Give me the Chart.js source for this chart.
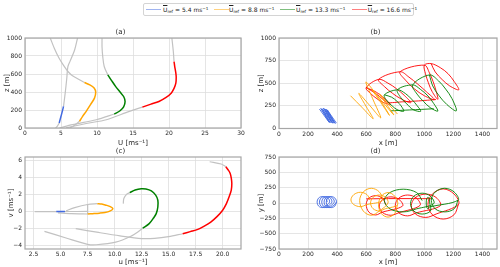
<!DOCTYPE html>
<html><head><meta charset="utf-8">
<script src="https://cdn.jsdelivr.net/npm/chart.js@4.4.0/dist/chart.umd.min.js"></script>
<style>
body{margin:0;width:500px;height:267px;background:#fff;position:relative;overflow:hidden;font-family:"DejaVu Sans",sans-serif;}
canvas{position:absolute;}
#legend{position:absolute;left:143px;top:3px;width:269px;height:11px;border:1px solid #d4d4d4;border-radius:2px;background:#fff;}
.ln{position:absolute;top:5px;width:15px;height:1.4px;}
.tx{position:absolute;top:1px;font-size:6px;line-height:8px;color:#222;white-space:nowrap;}
.tx sub{font-size:4.2px;vertical-align:-1px;}
.tx sup{font-size:4.2px;vertical-align:2px;}
.ov{text-decoration:overline;}
</style></head><body>
<div id="legend">
 <span class="ln" style="left:2px;background:rgba(65,105,225,0.5)"></span><span class="tx" style="left:19px"><span class="ov">U</span><sub>ref</sub> = 5.4 ms<sup>−1</sup></span>
 <span class="ln" style="left:69.7px;background:rgba(255,165,0,0.5)"></span><span class="tx" style="left:85px"><span class="ov">U</span><sub>ref</sub> = 8.8 ms<sup>−1</sup></span>
 <span class="ln" style="left:136px;background:rgba(0,128,0,0.5)"></span><span class="tx" style="left:152px"><span class="ov">U</span><sub>ref</sub> = 13.3 ms<sup>−1</sup></span>
 <span class="ln" style="left:207.7px;background:rgba(255,0,0,0.5)"></span><span class="tx" style="left:223.7px"><span class="ov">U</span><sub>ref</sub> = 16.6 ms<sup>−1</sup></span>
</div>
<canvas id="ca" width="250" height="120" style="left:0;top:28px"></canvas>
<canvas id="cb" width="246" height="120" style="left:254px;top:28px"></canvas>
<canvas id="cc" width="250" height="120" style="left:0;top:147px"></canvas>
<canvas id="cd" width="246" height="120" style="left:254px;top:147px"></canvas>
<script>
// ---------- tick values ----------
const aXTicks=[0,5,10,15,20,25,30];
const aYTicks=[0,200,400,600,800,1000];
const bXTicks=[0,200,400,600,800,1000,1200,1400];
const bYTicks=[0,250,500,750,1000];
const cXTicks=[2.5,5,7.5,10,12.5,15,17.5,20];
const cYTicks=[-4,-2,0,2,4,6];
const dXTicks=[0,200,400,600,800,1000,1200,1400];
const dYTicks=[-750,-500,-250,0,250,500,750];

// ---------- (a) profiles U(z) ----------
const aBlueLow=[[4.25,0],[4.5,20],[4.75,55]];
const aBlueRot=[[4.75,55],[5.0,130],[5.2,190],[5.35,240]];
const aBlueUp=[[5.35,240],[5.6,400],[5.8,550],[5.95,680],[6.25,740],[6.9,870],[7.3,1000]];
const aOrgLow=[[6.2,0],[6.8,25],[7.57,74]];
const aOrgRot=[[7.57,74],[8.0,130],[8.5,185],[9.1,260],[9.65,332],[9.82,400],[9.6,445],[9.0,480],[8.26,505]];
const aOrgUp=[[8.26,505],[7.5,540],[6.6,580],[6.0,625],[5.4,690],[4.7,780],[4.1,880],[3.5,1000]];
const aGrnLow=[[4.8,0],[6.6,37],[9.9,92],[12.4,155]];
const aGrnRot=[[12.4,155],[13.2,192],[13.7,235],[13.9,295],[13.7,350],[13.2,400],[12.6,460],[12.0,530],[11.5,590]];
const aGrnUp=[[11.5,590],[11.0,683],[10.8,793],[10.7,900],[10.7,1000]];
const aRedLow=[[5.7,0],[6.2,11],[8.5,50],[11.3,92],[14.5,185],[16.3,232]];
const aRedRot=[[16.3,232],[17.5,265],[18.6,295],[19.6,340],[20.3,387],[20.7,440],[20.95,498],[21.0,560],[20.95,609],[20.8,680],[20.7,738]];
const aRedUp=[[20.7,738],[20.6,850],[20.4,1000]];

// ---------- (b) x-z trajectories ----------
const bBlue=[[278,215],[345,68],[288,222],[353,62],[298,218],[362,66],[306,226],[370,58],[316,216],[378,62],[325,212],[387,55],[332,206],[395,60]];
const bOrange=[[492,362],[570,235],[648,108],[598,248],[549,388],[625,253],[700,118],[648,316],[598,515],[690,330],[760,145],[700,288],[640,430],[715,290],[790,150],[740,268],[690,385],[752,272],[815,160]];
const bGreenLine=[[1065,218],[900,205],[767,195]];
const bGreen=[[725,372],[775,346],[812,300],[840,250],[858,190],[812,209],[778,251],[745,302],[725,372],
 [815,428],[870,386],[912,325],[950,253],[975,190],[922,209],[880,271],[838,342],[815,428],
 [920,482],[975,430],[1025,360],[1065,275],[1093,192],[1040,231],[995,298],[950,380],[920,482],
 [1035,592],[1098,526],[1147,435],[1190,331],[1220,195],[1155,265],[1100,365],[1058,470],[1035,592]];
const bRedLine=[[600,455],[680,370],[745,288],[850,295],[960,305],[1080,320]];
const bRed=[[600,450],[650,419],[692,376],[730,325],[765,268],[710,293],[668,336],[630,387],[600,450],
 [686,543],[749,502],[808,440],[862,366],[907,285],[840,327],[780,390],[725,464],[686,543],
 [833,627],[894,568],[955,490],[1015,405],[1070,319],[1000,362],[930,440],[870,535],[833,627],
 [1000,700],[1035,615],[1060,520],[1080,420],[1093,322],[1053,410],[1028,505],[1008,605],[1000,700],
 [1047,717],[1110,672],[1163,606],[1205,520],[1237,428],[1175,470],[1123,540],[1075,625],[1047,717]];

// ---------- (c) hodographs u-v ----------
const cBlueGrey=[[2.6,-0.05],[4.6,-0.04],[5.4,-0.03],[6.5,-0.03],[7.5,-0.02]];
const cBlueRot=[[4.6,-0.04],[5.0,-0.03],[5.4,-0.03]];
const cOrgLow=[[4.75,-0.2],[6.0,-0.28],[7.5,-0.32]];
const cOrgRot=[[7.5,-0.32],[8.0,-0.28],[8.6,-0.22],[9.1,-0.14],[9.55,0.02],[9.84,0.3],[9.6,0.55],[9.2,0.72],[8.8,0.85],[8.4,0.9]];
const cOrgUp=[[8.4,0.9],[7.5,0.8],[6.3,0.43],[5.5,0.05]];
const cOrgVert=[[7.5,0.8],[7.5,-0.32]];
const cGrnLow=[[3.5,-2.37],[5.5,-3.15],[7.5,-3.9],[8.3,-3.95],[10.1,-3.64],[11.5,-2.95],[12.3,-2.3],[12.6,-2.0]];
const cGrnRot=[[12.6,-2.0],[13.2,-1.46],[13.6,-0.8],[13.85,-0.28],[14.0,0.5],[14.0,1.3],[13.8,1.9],[13.4,2.4],[12.9,2.62],[12.46,2.65],[11.9,2.5],[11.4,2.2]];
const cGrnUp=[[11.4,2.2],[11.1,2.0],[10.85,1.5],[10.8,0.9]];
const cRedLow=[[6.4,-2.05],[8.5,-2.5],[10.5,-2.9],[12.5,-3.22],[13.7,-3.2],[15.0,-3.0],[16.3,-2.65]];
const cRedRot=[[16.3,-2.65],[17.0,-2.4],[17.7,-2.14],[18.3,-1.75],[18.9,-1.27],[19.5,-0.6],[20.0,0.12],[20.35,0.9],[20.6,1.7],[20.8,2.5],[20.85,3.27],[20.8,3.9],[20.7,4.46],[20.5,4.9],[20.3,5.25]];
const cRedUp=[[20.3,5.25],[19.86,5.57],[18.8,5.84]];

// ---------- (d) x-y trajectories ----------
const dBlue=[[332,15],[322,79],[297,105],[272,79],[262,15],[272,-49],[297,-75],[322,-49],
 [348,15],[338,79],[313,105],[288,79],[278,15],[288,-49],[313,-75],[338,-49],
 [364,15],[354,79],[329,105],[304,79],[294,15],[304,-49],[329,-75],[354,-49],
 [380,15],[370,79],[345,105],[320,79],[310,15],[320,-49],[345,-75],[370,-49],
 [395,15],[385,79],[360,105],[335,79],[325,15],[335,-49],[360,-75],[385,-49],[395,15]];
const dOrange=[[625,50],[606,135],[560,175],[514,135],[495,50],[514,-25],[560,-60],[606,-25],
 [710,40],[690,181],[635,240],[580,181],[555,40],[580,-131],[635,-200],[690,-131],
 [750,0],[733,92],[690,130],[647,92],[630,0],[647,-92],[690,-130],[733,-92],
 [815,-30],[796,112],[750,170],[704,112],[685,-30],[704,-172],[750,-230],[796,-172],[815,-30]];
const dGreen=[[985,40],[947,170],[855,225],[763,170],[725,40],[763,-95],[855,-145],[947,-95],
 [1065,-10],[1042,111],[985,160],[928,111],[905,-10],[928,-131],[985,-180],[1042,-131],
 [1037,0],[1034,67],[1025,95],[1016,67],[1013,0],[1016,-67],[1025,-95],[1034,-67],
 [1232,45],[1205,180],[1140,240],[1075,180],[1048,45],[1075,-95],[1140,-145],[1205,-95],[1232,45]];
const dRedLine=[[600,68],[800,72],[1050,70]];
const dRed=[[735,-25],[711,80],[665,120],[619,80],[600,-25],[619,-150],[665,-195],[711,-150],
 [850,-50],[827,57],[770,100],[713,57],[690,-50],[713,-157],[770,-200],[827,-157],
 [970,-40],[945,81],[885,130],[825,81],[800,-40],[825,-161],[885,-210],[945,-161],
 [1110,-45],[1081,90],[1010,145],[939,90],[910,-45],[939,-180],[1010,-235],[1081,-180],
 [1235,-20],[1205,145],[1130,230],[1055,145],[1025,-20],[1055,-190],[1130,-262],[1205,-190],[1235,-20]];

// ---------- styling ----------
const F='"DejaVu Sans", sans-serif';
const TXT='#262626', GRID='#dedede', GREY='#c2c2c2';
const BLUE='#4169e1', ORANGE='#ffa500', GREEN='#008000', RED='#ff0000';
const minus=v=>String(v).replace('-','\u2212');

function ds(arr,color,w,order,tension){
  return {data:arr.map(p=>({x:p[0],y:p[1]})),showLine:true,borderColor:color,borderWidth:w,
    pointRadius:0,pointHoverRadius:0,fill:false,tension:tension,order:order};
}
const boxPlugin={id:'box',afterDatasetsDraw(chart){
  const a=chart.chartArea,c=chart.ctx;c.save();c.strokeStyle='#a6a6a6';c.lineWidth=1.2;
  c.strokeRect(a.left,a.top,a.right-a.left,a.bottom-a.top);c.restore();}};

function panel(id,datasets,o){
  return new Chart(document.getElementById(id),{
    type:'scatter',data:{datasets},
    options:{responsive:false,animation:false,devicePixelRatio:1,events:[],
      layout:{autoPadding:false,padding:{left:0,right:o.padR,top:0,bottom:0}},
      plugins:{legend:{display:false},tooltip:{enabled:false},
        title:{display:true,text:o.title,color:TXT,font:{family:F,size:7,weight:'normal'},padding:{top:0,bottom:1.6}}},
      scales:{
        x:{type:'linear',min:o.xmin,max:o.xmax,
          afterBuildTicks:s=>{s.ticks=o.xticks.map(v=>({value:v}));},
          afterFit:s=>{s.height=o.xh;s.paddingLeft=0;s.paddingRight=0;},
          grid:{color:GRID,lineWidth:0.8,drawTicks:false},border:{display:false},
          ticks:{padding:2,color:TXT,font:{family:F,size:6},maxRotation:0,autoSkip:false,callback:o.xfmt},
          title:{display:true,text:o.xtitle,color:TXT,font:{family:F,size:7},padding:{top:0,bottom:1}}},
        y:{type:'linear',min:o.ymin,max:o.ymax,
          afterBuildTicks:s=>{s.ticks=o.yticks.map(v=>({value:v}));},
          afterFit:s=>{s.width=25;s.paddingTop=0;s.paddingBottom=0;},
          grid:{color:GRID,lineWidth:0.8,drawTicks:false},border:{display:false},
          ticks:{padding:3,color:TXT,font:{family:F,size:6},autoSkip:false,callback:o.yfmt},
          title:{display:true,text:o.ytitle,color:TXT,font:{family:F,size:7},padding:{top:o.ytp,bottom:0}}}
      }},
    plugins:[boxPlugin]});
}

const T=0.3;
panel('ca',[
  ds(aBlueRot,BLUE,1.5,0,T),ds(aOrgRot,ORANGE,1.5,0,T),ds(aGrnRot,GREEN,1.5,0,T),ds(aRedRot,RED,1.5,0,T),
  ds(aBlueLow,GREY,1.2,1,T),ds(aBlueUp,GREY,1.2,1,T),ds(aOrgLow,GREY,1.2,1,T),ds(aOrgUp,GREY,1.2,1,T),
  ds(aGrnLow,GREY,1.2,1,T),ds(aGrnUp,GREY,1.2,1,T),ds(aRedLow,GREY,1.2,1,T),ds(aRedUp,GREY,1.2,1,T)
],{title:'(a)',xmin:0,xmax:30,ymin:0,ymax:1000,xticks:aXTicks,yticks:aYTicks,xh:20,padR:9,ytp:2.8,
  xtitle:'U [ms\u207B\u00B9]',ytitle:'z [m]',xfmt:v=>String(v),yfmt:v=>String(v)});

panel('cb',[
  ds(bBlue,BLUE,0.9,0,0),ds(bOrange,ORANGE,0.9,0,0.3),ds(bGreen,GREEN,0.9,0,0.35),ds(bGreenLine,GREEN,0.9,0,0.3),
  ds(bRed,RED,0.9,0,0.35),ds(bRedLine,RED,0.9,0,0.2)
],{title:'(b)',xmin:0,xmax:1500,ymin:0,ymax:1000,xticks:bXTicks,yticks:bYTicks,xh:19.5,padR:3,ytp:3.3,
  xtitle:'x [m]',ytitle:'z [m]',xfmt:v=>String(v),yfmt:v=>String(v)});

panel('cc',[
  ds(cBlueRot,BLUE,1.5,0,T),ds(cOrgRot,ORANGE,1.5,0,T),ds(cGrnRot,GREEN,1.5,0,T),ds(cRedRot,RED,1.5,0,T),
  ds(cBlueGrey,GREY,1.2,1,0),ds(cOrgLow,GREY,1.2,1,T),ds(cOrgUp,GREY,1.2,1,T),ds(cOrgVert,GREY,1.2,1,0),
  ds(cGrnLow,GREY,1.2,1,T),ds(cGrnUp,GREY,1.2,1,T),ds(cRedLow,GREY,1.2,1,T),ds(cRedUp,GREY,1.2,1,T)
],{title:'(c)',xmin:1.7,xmax:21.7,ymin:-4.45,ymax:6.4,xticks:cXTicks,yticks:cYTicks,xh:18,padR:9,ytp:7,
  xtitle:'u [ms\u207B\u00B9]',ytitle:'v [ms\u207B\u00B9]',xfmt:v=>v.toFixed(1),yfmt:minus});

panel('cd',[
  ds(dBlue,BLUE,0.9,0,0.35),ds(dOrange,ORANGE,0.9,0,0.35),ds(dGreen,GREEN,0.9,0,0.35),
  ds(dRed,RED,0.9,0,0.35),ds(dRedLine,RED,0.9,0,0.3)
],{title:'(d)',xmin:0,xmax:1500,ymin:-750,ymax:750,xticks:dXTicks,yticks:dYTicks,xh:18,padR:3,ytp:3.3,
  xtitle:'x [m]',ytitle:'y [m]',xfmt:v=>String(v),yfmt:minus});
</script>
</body></html>
